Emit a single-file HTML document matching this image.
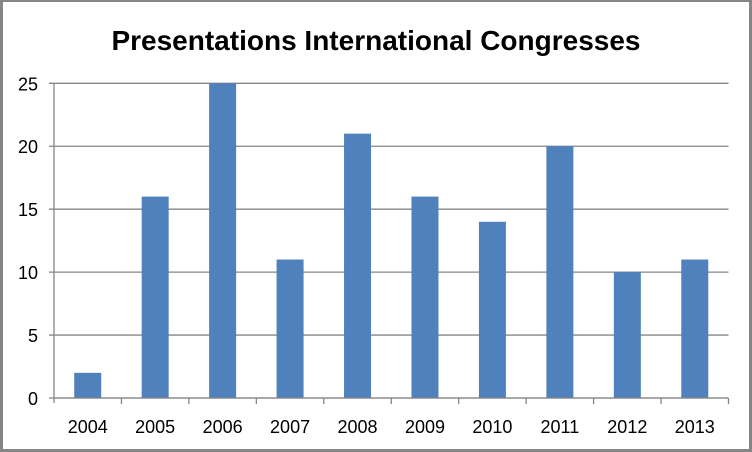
<!DOCTYPE html>
<html><head><meta charset="utf-8"><style>
body{margin:0;background:#fff}
svg{display:block;font-family:"Liberation Sans",sans-serif}
</style></head><body>
<svg id="chart" width="752" height="452" viewBox="0 0 752 452">
<rect x="1.5" y="0.5" width="749" height="450" fill="#fff" stroke="#868686" stroke-width="3"/>
<text x="376" y="50" text-anchor="middle" font-size="28" font-weight="bold" fill="#000">Presentations International Congresses</text>
<g id="grid"></g><g id="bars"></g><g id="axes"></g>
</svg>
<script>
const categories=["2004","2005","2006","2007","2008","2009","2010","2011","2012","2013"];
const values=[2,16,25,11,21,16,14,20,10,11];
const yTicks=[0,5,10,15,20,25];
const L=54,R=728.5,T=83.3,B=398,yMax=25;
const svg=document.getElementById('chart');
const NS='http://www.w3.org/2000/svg';
const bw=(R-L)/categories.length;
const y=v=>B-(v/yMax)*(B-T);
const x=i=>L+i*bw;
function mk(t,a,p){const e=document.createElementNS(NS,t);for(const k in a)e.setAttribute(k,a[k]);p.appendChild(e);return e;}
const g=document.getElementById('grid'),bg=document.getElementById('bars'),ag=document.getElementById('axes');
yTicks.forEach(v=>{
 const l=mk('line',{x1:L-5,x2:R,y1:y(v),y2:y(v),stroke:'#868686','stroke-width':1.3},g);
 
 
 const t=mk('text',{x:L-16,y:y(v)+7,'text-anchor':'end','font-size':18,fill:'#000'},ag);
 t.textContent=v;
 
 
});
const ya=mk('line',{x1:L,x2:L,y1:T,y2:B+5,stroke:'#868686','stroke-width':1.3},ag);


categories.forEach((c,i)=>{
 const w=27,cx=x(i)+bw/2;
 const r=mk('rect',{x:cx-w/2,y:y(values[i]),width:w,height:B-y(values[i]),fill:'#4f81bd'},bg);
 
 
 const tk=mk('line',{x1:x(i+1),x2:x(i+1),y1:B,y2:B+6,stroke:'#868686','stroke-width':1.3},ag);
 
 
 const t=mk('text',{x:cx,y:433,'text-anchor':'middle','font-size':18,fill:'#000'},ag);
 t.textContent=c;
 
 
});
const xa=mk('line',{x1:L,x2:R,y1:B,y2:B,stroke:'#868686','stroke-width':1.3},ag);


</script>
</body></html>
